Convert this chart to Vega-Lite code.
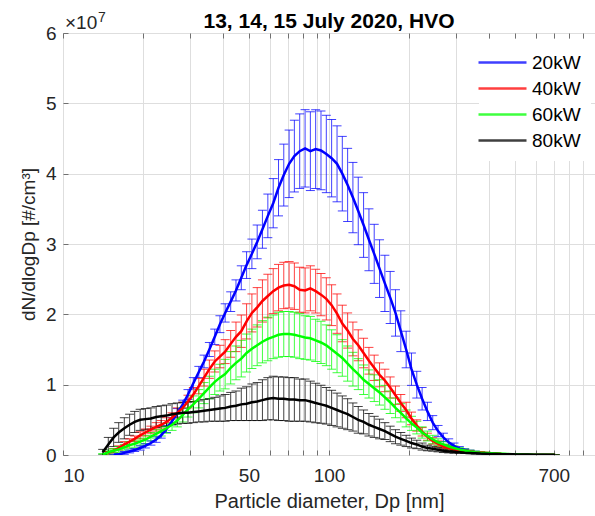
{
"$schema":"https://vega.github.io/schema/vega-lite/v6.json",
"width":532,"height":422,
"autosize":{"type":"none"},
"padding":{"left":63,"top":33,"right":0,"bottom":61},
"background":"white",
"title":{"text":"13, 14, 15 July 2020, HVO","fontSize":21,"fontWeight":"bold","font":"Liberation Sans","color":"#000000","anchor":"middle","baseline":"alphabetic","offset":6,"dy":44},
"config":{"font":"Liberation Sans","view":{"stroke":"#707070","strokeWidth":1},
"axis":{"labelFont":"Liberation Sans","titleFont":"Liberation Sans","labelFontSize":19,"titleFontSize":19,"titleFontWeight":"normal","labelColor":"#262626","titleColor":"#262626","domain":false,"grid":true,"gridColor":"#dedede","gridWidth":1,"tickColor":"#707070","tickSize":-5}},
"data":{"values":[
{"s":"20kW","d":15.5,"m":0,"e":0.01e7},{"s":"20kW","d":16.2,"m":0.01e7,"e":0.01e7},{"s":"20kW","d":17.0,"m":0.03e7,"e":0.02e7},{"s":"20kW","d":17.8,"m":0.05e7,"e":0.02e7},{"s":"20kW","d":18.6,"m":0.07e7,"e":0.02e7},{"s":"20kW","d":19.5,"m":0.10e7,"e":0.03e7},{"s":"20kW","d":20.4,"m":0.13e7,"e":0.03e7},{"s":"20kW","d":21.4,"m":0.17e7,"e":0.03e7},{"s":"20kW","d":22.4,"m":0.22e7,"e":0.04e7},{"s":"20kW","d":23.4,"m":0.28e7,"e":0.04e7},{"s":"20kW","d":24.5,"m":0.37e7,"e":0.05e7},{"s":"20kW","d":25.7,"m":0.48e7,"e":0.05e7},{"s":"20kW","d":26.9,"m":0.60e7,"e":0.06e7},{"s":"20kW","d":28.2,"m":0.72e7,"e":0.06e7},{"s":"20kW","d":29.5,"m":0.86e7,"e":0.07e7},{"s":"20kW","d":30.9,"m":1.02e7,"e":0.08e7},{"s":"20kW","d":32.4,"m":1.18e7,"e":0.08e7},{"s":"20kW","d":33.9,"m":1.33e7,"e":0.09e7},{"s":"20kW","d":35.5,"m":1.50e7,"e":0.10e7},{"s":"20kW","d":37.2,"m":1.68e7,"e":0.11e7},{"s":"20kW","d":38.9,"m":1.86e7,"e":0.12e7},{"s":"20kW","d":40.7,"m":2.02e7,"e":0.13e7},{"s":"20kW","d":42.7,"m":2.18e7,"e":0.14e7},{"s":"20kW","d":44.7,"m":2.34e7,"e":0.15e7},{"s":"20kW","d":46.8,"m":2.52e7,"e":0.17e7},{"s":"20kW","d":49.0,"m":2.70e7,"e":0.19e7},{"s":"20kW","d":51.3,"m":2.86e7,"e":0.21e7},{"s":"20kW","d":53.7,"m":3.03e7,"e":0.24e7},{"s":"20kW","d":56.2,"m":3.21e7,"e":0.27e7},{"s":"20kW","d":58.9,"m":3.40e7,"e":0.31e7},{"s":"20kW","d":61.7,"m":3.58e7,"e":0.35e7},{"s":"20kW","d":64.6,"m":3.80e7,"e":0.40e7},{"s":"20kW","d":67.6,"m":3.98e7,"e":0.44e7},{"s":"20kW","d":70.8,"m":4.14e7,"e":0.48e7},{"s":"20kW","d":74.1,"m":4.25e7,"e":0.51e7},{"s":"20kW","d":77.6,"m":4.32e7,"e":0.53e7},{"s":"20kW","d":81.3,"m":4.36e7,"e":0.55e7},{"s":"20kW","d":85.1,"m":4.32e7,"e":0.56e7},{"s":"20kW","d":89.1,"m":4.35e7,"e":0.56e7},{"s":"20kW","d":93.3,"m":4.33e7,"e":0.56e7},{"s":"20kW","d":97.7,"m":4.28e7,"e":0.55e7},{"s":"20kW","d":102.3,"m":4.22e7,"e":0.55e7},{"s":"20kW","d":107.2,"m":4.14e7,"e":0.54e7},{"s":"20kW","d":112.2,"m":4.00e7,"e":0.53e7},{"s":"20kW","d":117.5,"m":3.84e7,"e":0.52e7},{"s":"20kW","d":123.0,"m":3.66e7,"e":0.50e7},{"s":"20kW","d":128.8,"m":3.47e7,"e":0.48e7},{"s":"20kW","d":134.9,"m":3.27e7,"e":0.46e7},{"s":"20kW","d":141.3,"m":3.06e7,"e":0.44e7},{"s":"20kW","d":147.9,"m":2.86e7,"e":0.42e7},{"s":"20kW","d":154.9,"m":2.65e7,"e":0.41e7},{"s":"20kW","d":162.2,"m":2.44e7,"e":0.40e7},{"s":"20kW","d":169.8,"m":2.24e7,"e":0.37e7},{"s":"20kW","d":177.8,"m":2.02e7,"e":0.33e7},{"s":"20kW","d":186.2,"m":1.76e7,"e":0.29e7},{"s":"20kW","d":195.0,"m":1.50e7,"e":0.26e7},{"s":"20kW","d":204.2,"m":1.22e7,"e":0.23e7},{"s":"20kW","d":213.8,"m":1.00e7,"e":0.19e7},{"s":"20kW","d":223.9,"m":0.80e7,"e":0.16e7},{"s":"20kW","d":234.4,"m":0.62e7,"e":0.13e7},{"s":"20kW","d":245.5,"m":0.46e7,"e":0.10e7},{"s":"20kW","d":257.0,"m":0.34e7,"e":0.08e7},{"s":"20kW","d":269.2,"m":0.25e7,"e":0.06e7},{"s":"20kW","d":281.8,"m":0.18e7,"e":0.05e7},{"s":"20kW","d":295.1,"m":0.13e7,"e":0.04e7},{"s":"20kW","d":309.0,"m":0.09e7,"e":0.03e7},{"s":"20kW","d":323.6,"m":0.07e7,"e":0.02e7},{"s":"20kW","d":338.8,"m":0.05e7,"e":0.02e7},{"s":"20kW","d":354.8,"m":0.04e7,"e":0.015e7},{"s":"20kW","d":371.5,"m":0.03e7,"e":0.01e7},{"s":"20kW","d":389.0,"m":0.025e7,"e":0.01e7},{"s":"20kW","d":407.4,"m":0.02e7,"e":0.008e7},{"s":"20kW","d":426.6,"m":0.015e7,"e":0.006e7},{"s":"20kW","d":446.7,"m":0.01e7,"e":0.005e7},{"s":"20kW","d":467.7,"m":0.008e7,"e":0.004e7},{"s":"20kW","d":489.8,"m":0.006e7,"e":0.003e7},{"s":"20kW","d":512.9,"m":0.005e7,"e":0.003e7},{"s":"20kW","d":537.0,"m":0.004e7,"e":0.002e7},{"s":"20kW","d":562.3,"m":0.003e7,"e":0.002e7},{"s":"20kW","d":588.8,"m":0.003e7,"e":0.002e7},{"s":"20kW","d":616.6,"m":0.002e7,"e":0.001e7},{"s":"20kW","d":645.7,"m":0.002e7,"e":0.001e7},{"s":"20kW","d":676.1,"m":0.001e7,"e":0.001e7},{"s":"20kW","d":707.9,"m":0.001e7,"e":0.001e7},
{"s":"40kW","d":14.8,"m":0.03e7,"e":0.02e7},{"s":"40kW","d":15.5,"m":0.06e7,"e":0.03e7},{"s":"40kW","d":16.2,"m":0.10e7,"e":0.03e7},{"s":"40kW","d":17.0,"m":0.15e7,"e":0.04e7},{"s":"40kW","d":17.8,"m":0.19e7,"e":0.04e7},{"s":"40kW","d":18.6,"m":0.23e7,"e":0.04e7},{"s":"40kW","d":19.5,"m":0.28e7,"e":0.05e7},{"s":"40kW","d":20.4,"m":0.32e7,"e":0.05e7},{"s":"40kW","d":21.4,"m":0.36e7,"e":0.05e7},{"s":"40kW","d":22.4,"m":0.40e7,"e":0.06e7},{"s":"40kW","d":23.4,"m":0.43e7,"e":0.06e7},{"s":"40kW","d":24.5,"m":0.47e7,"e":0.06e7},{"s":"40kW","d":25.7,"m":0.53e7,"e":0.07e7},{"s":"40kW","d":26.9,"m":0.60e7,"e":0.07e7},{"s":"40kW","d":28.2,"m":0.67e7,"e":0.08e7},{"s":"40kW","d":29.5,"m":0.76e7,"e":0.09e7},{"s":"40kW","d":30.9,"m":0.86e7,"e":0.10e7},{"s":"40kW","d":32.4,"m":0.98e7,"e":0.11e7},{"s":"40kW","d":33.9,"m":1.10e7,"e":0.12e7},{"s":"40kW","d":35.5,"m":1.22e7,"e":0.13e7},{"s":"40kW","d":37.2,"m":1.33e7,"e":0.15e7},{"s":"40kW","d":38.9,"m":1.40e7,"e":0.16e7},{"s":"40kW","d":40.7,"m":1.47e7,"e":0.17e7},{"s":"40kW","d":42.7,"m":1.58e7,"e":0.19e7},{"s":"40kW","d":44.7,"m":1.68e7,"e":0.21e7},{"s":"40kW","d":46.8,"m":1.76e7,"e":0.23e7},{"s":"40kW","d":49.0,"m":1.90e7,"e":0.25e7},{"s":"40kW","d":51.3,"m":2.02e7,"e":0.27e7},{"s":"40kW","d":53.7,"m":2.10e7,"e":0.28e7},{"s":"40kW","d":56.2,"m":2.19e7,"e":0.30e7},{"s":"40kW","d":58.9,"m":2.26e7,"e":0.31e7},{"s":"40kW","d":61.7,"m":2.33e7,"e":0.32e7},{"s":"40kW","d":64.6,"m":2.38e7,"e":0.33e7},{"s":"40kW","d":67.6,"m":2.41e7,"e":0.33e7},{"s":"40kW","d":70.8,"m":2.42e7,"e":0.33e7},{"s":"40kW","d":74.1,"m":2.40e7,"e":0.33e7},{"s":"40kW","d":77.6,"m":2.35e7,"e":0.32e7},{"s":"40kW","d":81.3,"m":2.34e7,"e":0.32e7},{"s":"40kW","d":85.1,"m":2.37e7,"e":0.32e7},{"s":"40kW","d":89.1,"m":2.33e7,"e":0.31e7},{"s":"40kW","d":93.3,"m":2.28e7,"e":0.30e7},{"s":"40kW","d":97.7,"m":2.22e7,"e":0.30e7},{"s":"40kW","d":102.3,"m":2.13e7,"e":0.29e7},{"s":"40kW","d":107.2,"m":2.01e7,"e":0.28e7},{"s":"40kW","d":112.2,"m":1.87e7,"e":0.26e7},{"s":"40kW","d":117.5,"m":1.77e7,"e":0.25e7},{"s":"40kW","d":123.0,"m":1.65e7,"e":0.24e7},{"s":"40kW","d":128.8,"m":1.56e7,"e":0.22e7},{"s":"40kW","d":134.9,"m":1.45e7,"e":0.21e7},{"s":"40kW","d":141.3,"m":1.34e7,"e":0.19e7},{"s":"40kW","d":147.9,"m":1.24e7,"e":0.18e7},{"s":"40kW","d":154.9,"m":1.14e7,"e":0.17e7},{"s":"40kW","d":162.2,"m":1.06e7,"e":0.16e7},{"s":"40kW","d":169.8,"m":0.96e7,"e":0.15e7},{"s":"40kW","d":177.8,"m":0.85e7,"e":0.13e7},{"s":"40kW","d":186.2,"m":0.74e7,"e":0.12e7},{"s":"40kW","d":195.0,"m":0.64e7,"e":0.11e7},{"s":"40kW","d":204.2,"m":0.52e7,"e":0.09e7},{"s":"40kW","d":213.8,"m":0.42e7,"e":0.08e7},{"s":"40kW","d":223.9,"m":0.33e7,"e":0.06e7},{"s":"40kW","d":234.4,"m":0.26e7,"e":0.05e7},{"s":"40kW","d":245.5,"m":0.20e7,"e":0.045e7},{"s":"40kW","d":257.0,"m":0.16e7,"e":0.04e7},{"s":"40kW","d":269.2,"m":0.12e7,"e":0.03e7},{"s":"40kW","d":281.8,"m":0.10e7,"e":0.025e7},{"s":"40kW","d":295.1,"m":0.08e7,"e":0.02e7},{"s":"40kW","d":309.0,"m":0.07e7,"e":0.02e7},{"s":"40kW","d":323.6,"m":0.06e7,"e":0.015e7},{"s":"40kW","d":338.8,"m":0.05e7,"e":0.015e7},{"s":"40kW","d":354.8,"m":0.04e7,"e":0.01e7},{"s":"40kW","d":371.5,"m":0.035e7,"e":0.01e7},{"s":"40kW","d":389.0,"m":0.03e7,"e":0.008e7},{"s":"40kW","d":407.4,"m":0.025e7,"e":0.007e7},{"s":"40kW","d":426.6,"m":0.02e7,"e":0.006e7},{"s":"40kW","d":446.7,"m":0.015e7,"e":0.005e7},{"s":"40kW","d":467.7,"m":0.012e7,"e":0.004e7},{"s":"40kW","d":489.8,"m":0.01e7,"e":0.003e7},{"s":"40kW","d":512.9,"m":0.008e7,"e":0.003e7},{"s":"40kW","d":537.0,"m":0.006e7,"e":0.002e7},{"s":"40kW","d":562.3,"m":0.005e7,"e":0.002e7},{"s":"40kW","d":588.8,"m":0.004e7,"e":0.002e7},{"s":"40kW","d":616.6,"m":0.003e7,"e":0.001e7},{"s":"40kW","d":645.7,"m":0.003e7,"e":0.001e7},{"s":"40kW","d":676.1,"m":0.002e7,"e":0.001e7},{"s":"40kW","d":707.9,"m":0.002e7,"e":0.001e7},
{"s":"60kW","d":14.1,"m":0.01e7,"e":0.01e7},{"s":"60kW","d":14.8,"m":0.04e7,"e":0.03e7},{"s":"60kW","d":15.5,"m":0.06e7,"e":0.03e7},{"s":"60kW","d":16.2,"m":0.08e7,"e":0.04e7},{"s":"60kW","d":17.0,"m":0.11e7,"e":0.04e7},{"s":"60kW","d":17.8,"m":0.14e7,"e":0.05e7},{"s":"60kW","d":18.6,"m":0.16e7,"e":0.05e7},{"s":"60kW","d":19.5,"m":0.19e7,"e":0.05e7},{"s":"60kW","d":20.4,"m":0.22e7,"e":0.06e7},{"s":"60kW","d":21.4,"m":0.26e7,"e":0.06e7},{"s":"60kW","d":22.4,"m":0.30e7,"e":0.06e7},{"s":"60kW","d":23.4,"m":0.34e7,"e":0.07e7},{"s":"60kW","d":24.5,"m":0.38e7,"e":0.07e7},{"s":"60kW","d":25.7,"m":0.43e7,"e":0.08e7},{"s":"60kW","d":26.9,"m":0.49e7,"e":0.09e7},{"s":"60kW","d":28.2,"m":0.57e7,"e":0.10e7},{"s":"60kW","d":29.5,"m":0.65e7,"e":0.11e7},{"s":"60kW","d":30.9,"m":0.72e7,"e":0.12e7},{"s":"60kW","d":32.4,"m":0.80e7,"e":0.13e7},{"s":"60kW","d":33.9,"m":0.88e7,"e":0.15e7},{"s":"60kW","d":35.5,"m":0.96e7,"e":0.16e7},{"s":"60kW","d":37.2,"m":1.04e7,"e":0.18e7},{"s":"60kW","d":38.9,"m":1.10e7,"e":0.19e7},{"s":"60kW","d":40.7,"m":1.15e7,"e":0.21e7},{"s":"60kW","d":42.7,"m":1.24e7,"e":0.23e7},{"s":"60kW","d":44.7,"m":1.31e7,"e":0.24e7},{"s":"60kW","d":46.8,"m":1.37e7,"e":0.26e7},{"s":"60kW","d":49.0,"m":1.45e7,"e":0.27e7},{"s":"60kW","d":51.3,"m":1.51e7,"e":0.28e7},{"s":"60kW","d":53.7,"m":1.56e7,"e":0.29e7},{"s":"60kW","d":56.2,"m":1.61e7,"e":0.30e7},{"s":"60kW","d":58.9,"m":1.65e7,"e":0.31e7},{"s":"60kW","d":61.7,"m":1.68e7,"e":0.31e7},{"s":"60kW","d":64.6,"m":1.71e7,"e":0.32e7},{"s":"60kW","d":67.6,"m":1.72e7,"e":0.32e7},{"s":"60kW","d":70.8,"m":1.72e7,"e":0.32e7},{"s":"60kW","d":74.1,"m":1.71e7,"e":0.32e7},{"s":"60kW","d":77.6,"m":1.69e7,"e":0.32e7},{"s":"60kW","d":81.3,"m":1.67e7,"e":0.31e7},{"s":"60kW","d":85.1,"m":1.66e7,"e":0.31e7},{"s":"60kW","d":89.1,"m":1.63e7,"e":0.30e7},{"s":"60kW","d":93.3,"m":1.60e7,"e":0.30e7},{"s":"60kW","d":97.7,"m":1.56e7,"e":0.29e7},{"s":"60kW","d":102.3,"m":1.50e7,"e":0.28e7},{"s":"60kW","d":107.2,"m":1.44e7,"e":0.27e7},{"s":"60kW","d":112.2,"m":1.38e7,"e":0.26e7},{"s":"60kW","d":117.5,"m":1.30e7,"e":0.25e7},{"s":"60kW","d":123.0,"m":1.22e7,"e":0.24e7},{"s":"60kW","d":128.8,"m":1.15e7,"e":0.22e7},{"s":"60kW","d":134.9,"m":1.07e7,"e":0.21e7},{"s":"60kW","d":141.3,"m":1.01e7,"e":0.20e7},{"s":"60kW","d":147.9,"m":0.95e7,"e":0.19e7},{"s":"60kW","d":154.9,"m":0.89e7,"e":0.18e7},{"s":"60kW","d":162.2,"m":0.82e7,"e":0.17e7},{"s":"60kW","d":169.8,"m":0.75e7,"e":0.16e7},{"s":"60kW","d":177.8,"m":0.67e7,"e":0.14e7},{"s":"60kW","d":186.2,"m":0.60e7,"e":0.13e7},{"s":"60kW","d":195.0,"m":0.52e7,"e":0.12e7},{"s":"60kW","d":204.2,"m":0.45e7,"e":0.10e7},{"s":"60kW","d":213.8,"m":0.39e7,"e":0.09e7},{"s":"60kW","d":223.9,"m":0.32e7,"e":0.08e7},{"s":"60kW","d":234.4,"m":0.27e7,"e":0.07e7},{"s":"60kW","d":245.5,"m":0.22e7,"e":0.06e7},{"s":"60kW","d":257.0,"m":0.18e7,"e":0.05e7},{"s":"60kW","d":269.2,"m":0.15e7,"e":0.04e7},{"s":"60kW","d":281.8,"m":0.12e7,"e":0.035e7},{"s":"60kW","d":295.1,"m":0.10e7,"e":0.03e7},{"s":"60kW","d":309.0,"m":0.08e7,"e":0.025e7},{"s":"60kW","d":323.6,"m":0.065e7,"e":0.02e7},{"s":"60kW","d":338.8,"m":0.05e7,"e":0.018e7},{"s":"60kW","d":354.8,"m":0.04e7,"e":0.015e7},{"s":"60kW","d":371.5,"m":0.033e7,"e":0.012e7},{"s":"60kW","d":389.0,"m":0.028e7,"e":0.01e7},{"s":"60kW","d":407.4,"m":0.024e7,"e":0.009e7},{"s":"60kW","d":426.6,"m":0.02e7,"e":0.008e7},{"s":"60kW","d":446.7,"m":0.017e7,"e":0.007e7},{"s":"60kW","d":467.7,"m":0.014e7,"e":0.006e7},{"s":"60kW","d":489.8,"m":0.012e7,"e":0.005e7},{"s":"60kW","d":512.9,"m":0.01e7,"e":0.004e7},{"s":"60kW","d":537.0,"m":0.008e7,"e":0.004e7},{"s":"60kW","d":562.3,"m":0.007e7,"e":0.003e7},{"s":"60kW","d":588.8,"m":0.005e7,"e":0.003e7},{"s":"60kW","d":616.6,"m":0.004e7,"e":0.002e7},{"s":"60kW","d":645.7,"m":0.003e7,"e":0.002e7},{"s":"60kW","d":676.1,"m":0.002e7,"e":0.001e7},{"s":"60kW","d":707.9,"m":0.002e7,"e":0.001e7},
{"s":"80kW","d":14.1,"m":0.04e7,"e":0.04e7},{"s":"80kW","d":14.8,"m":0.15e7,"e":0.10e7},{"s":"80kW","d":15.5,"m":0.25e7,"e":0.13e7},{"s":"80kW","d":16.2,"m":0.32e7,"e":0.14e7},{"s":"80kW","d":17.0,"m":0.38e7,"e":0.15e7},{"s":"80kW","d":17.8,"m":0.43e7,"e":0.15e7},{"s":"80kW","d":18.6,"m":0.47e7,"e":0.15e7},{"s":"80kW","d":19.5,"m":0.50e7,"e":0.15e7},{"s":"80kW","d":20.4,"m":0.51e7,"e":0.15e7},{"s":"80kW","d":21.4,"m":0.52e7,"e":0.15e7},{"s":"80kW","d":22.4,"m":0.54e7,"e":0.15e7},{"s":"80kW","d":23.4,"m":0.55e7,"e":0.15e7},{"s":"80kW","d":24.5,"m":0.56e7,"e":0.15e7},{"s":"80kW","d":25.7,"m":0.58e7,"e":0.15e7},{"s":"80kW","d":26.9,"m":0.59e7,"e":0.15e7},{"s":"80kW","d":28.2,"m":0.60e7,"e":0.15e7},{"s":"80kW","d":29.5,"m":0.60e7,"e":0.15e7},{"s":"80kW","d":30.9,"m":0.61e7,"e":0.15e7},{"s":"80kW","d":32.4,"m":0.62e7,"e":0.15e7},{"s":"80kW","d":33.9,"m":0.63e7,"e":0.16e7},{"s":"80kW","d":35.5,"m":0.64e7,"e":0.16e7},{"s":"80kW","d":37.2,"m":0.65e7,"e":0.17e7},{"s":"80kW","d":38.9,"m":0.66e7,"e":0.18e7},{"s":"80kW","d":40.7,"m":0.67e7,"e":0.19e7},{"s":"80kW","d":42.7,"m":0.69e7,"e":0.20e7},{"s":"80kW","d":44.7,"m":0.70e7,"e":0.21e7},{"s":"80kW","d":46.8,"m":0.72e7,"e":0.23e7},{"s":"80kW","d":49.0,"m":0.73e7,"e":0.24e7},{"s":"80kW","d":51.3,"m":0.75e7,"e":0.26e7},{"s":"80kW","d":53.7,"m":0.76e7,"e":0.27e7},{"s":"80kW","d":56.2,"m":0.78e7,"e":0.29e7},{"s":"80kW","d":58.9,"m":0.80e7,"e":0.30e7},{"s":"80kW","d":61.7,"m":0.81e7,"e":0.31e7},{"s":"80kW","d":64.6,"m":0.80e7,"e":0.31e7},{"s":"80kW","d":67.6,"m":0.80e7,"e":0.31e7},{"s":"80kW","d":70.8,"m":0.79e7,"e":0.31e7},{"s":"80kW","d":74.1,"m":0.79e7,"e":0.31e7},{"s":"80kW","d":77.6,"m":0.78e7,"e":0.30e7},{"s":"80kW","d":81.3,"m":0.78e7,"e":0.30e7},{"s":"80kW","d":85.1,"m":0.76e7,"e":0.29e7},{"s":"80kW","d":89.1,"m":0.74e7,"e":0.28e7},{"s":"80kW","d":93.3,"m":0.72e7,"e":0.27e7},{"s":"80kW","d":97.7,"m":0.70e7,"e":0.26e7},{"s":"80kW","d":102.3,"m":0.67e7,"e":0.25e7},{"s":"80kW","d":107.2,"m":0.64e7,"e":0.24e7},{"s":"80kW","d":112.2,"m":0.61e7,"e":0.23e7},{"s":"80kW","d":117.5,"m":0.58e7,"e":0.22e7},{"s":"80kW","d":123.0,"m":0.54e7,"e":0.20e7},{"s":"80kW","d":128.8,"m":0.50e7,"e":0.19e7},{"s":"80kW","d":134.9,"m":0.47e7,"e":0.17e7},{"s":"80kW","d":141.3,"m":0.43e7,"e":0.16e7},{"s":"80kW","d":147.9,"m":0.40e7,"e":0.15e7},{"s":"80kW","d":154.9,"m":0.37e7,"e":0.14e7},{"s":"80kW","d":162.2,"m":0.34e7,"e":0.12e7},{"s":"80kW","d":169.8,"m":0.30e7,"e":0.11e7},{"s":"80kW","d":177.8,"m":0.26e7,"e":0.10e7},{"s":"80kW","d":186.2,"m":0.23e7,"e":0.09e7},{"s":"80kW","d":195.0,"m":0.20e7,"e":0.08e7},{"s":"80kW","d":204.2,"m":0.17e7,"e":0.07e7},{"s":"80kW","d":213.8,"m":0.15e7,"e":0.06e7},{"s":"80kW","d":223.9,"m":0.12e7,"e":0.05e7},{"s":"80kW","d":234.4,"m":0.10e7,"e":0.04e7},{"s":"80kW","d":245.5,"m":0.09e7,"e":0.035e7},{"s":"80kW","d":257.0,"m":0.075e7,"e":0.03e7},{"s":"80kW","d":269.2,"m":0.06e7,"e":0.025e7},{"s":"80kW","d":281.8,"m":0.05e7,"e":0.02e7},{"s":"80kW","d":295.1,"m":0.045e7,"e":0.02e7},{"s":"80kW","d":309.0,"m":0.04e7,"e":0.015e7},{"s":"80kW","d":323.6,"m":0.033e7,"e":0.012e7},{"s":"80kW","d":338.8,"m":0.028e7,"e":0.01e7},{"s":"80kW","d":354.8,"m":0.024e7,"e":0.01e7},{"s":"80kW","d":371.5,"m":0.02e7,"e":0.008e7},{"s":"80kW","d":389.0,"m":0.018e7,"e":0.007e7},{"s":"80kW","d":407.4,"m":0.016e7,"e":0.006e7},{"s":"80kW","d":426.6,"m":0.014e7,"e":0.005e7},{"s":"80kW","d":446.7,"m":0.012e7,"e":0.005e7},{"s":"80kW","d":467.7,"m":0.01e7,"e":0.004e7},{"s":"80kW","d":489.8,"m":0.009e7,"e":0.004e7},{"s":"80kW","d":512.9,"m":0.008e7,"e":0.003e7},{"s":"80kW","d":537.0,"m":0.007e7,"e":0.003e7},{"s":"80kW","d":562.3,"m":0.006e7,"e":0.002e7},{"s":"80kW","d":588.8,"m":0.005e7,"e":0.002e7},{"s":"80kW","d":616.6,"m":0.004e7,"e":0.002e7},{"s":"80kW","d":645.7,"m":0.003e7,"e":0.001e7},{"s":"80kW","d":676.1,"m":0.003e7,"e":0.001e7},{"s":"80kW","d":707.9,"m":0.002e7,"e":0.001e7}
]},
"resolve":{"axis":{"x":"independent"}},
"layer":[
{"layer":[
{"mark":{"type":"errorbar","ticks":{"size":9},"thickness":1,"opacity":0.75,"clip":true},
 "encoding":{
  "x":{"field":"d","type":"quantitative","scale":{"type":"log","domain":[10,1000],"nice":false},
   "axis":{"title":"Particle diameter, Dp [nm]","titleFontSize":20,"values":[10,20,30,40,50,60,70,80,90,100,200,300,400,500,600,700,800,900,1000],"format":"d","labelExpr":"indexof([10,50,100,700], datum.value) >= 0 ? datum.label : ''","labelPadding":16,"titlePadding":6}},
  "y":{"field":"m","type":"quantitative","scale":{"domain":[0,60000000],"nice":false},
   "axis":{"title":"dN/dlogDp [#/cm³]","values":[0,10000000,20000000,30000000,40000000,50000000,60000000],"labelExpr":"format(datum.value/10000000,'d')","labelPadding":12,"titlePadding":7}},
  "yError":{"field":"e"},
  "color":{"field":"s","type":"nominal","scale":{"domain":["20kW","40kW","60kW","80kW"],"range":["#0000ff","#ff0000","#00ff00","#000000"]},
   "legend":{"orient":"none","legendX":416,"legendY":6,"title":null,"symbolType":"M-2,0H2","symbolSize":576,"symbolStrokeWidth":2.5,"symbolFillColor":"transparent","labelFontSize":19,"labelColor":"#000000","labelOffset":16,"fillColor":"#ffffff","padding":10,"rowPadding":2}}
 }},
{"data":{"values":[{"t":"×10"}]},
 "mark":{"type":"text","align":"left","baseline":"alphabetic","dx":2,"dy":-4,"fontSize":19,"color":"#262626"},
 "encoding":{"x":{"datum":10},"y":{"datum":60000000},"text":{"field":"t"}}},
{"data":{"values":[{"t":"7"}]},
 "mark":{"type":"text","align":"left","baseline":"alphabetic","dx":35,"dy":-11,"fontSize":14,"color":"#262626"},
 "encoding":{"x":{"datum":10},"y":{"datum":60000000},"text":{"field":"t"}}}
]},
{"mark":{"type":"line","strokeWidth":2.5,"clip":true},
 "encoding":{
  "x":{"field":"d","type":"quantitative","axis":{"orient":"top","labels":false,"title":null,"grid":false,"values":[10,20,30,40,50,60,70,80,90,100,200,300,400,500,600,700,800,900,1000]}},
  "y":{"field":"m","type":"quantitative"},
  "color":{"field":"s","type":"nominal"}
 }}
]
}
